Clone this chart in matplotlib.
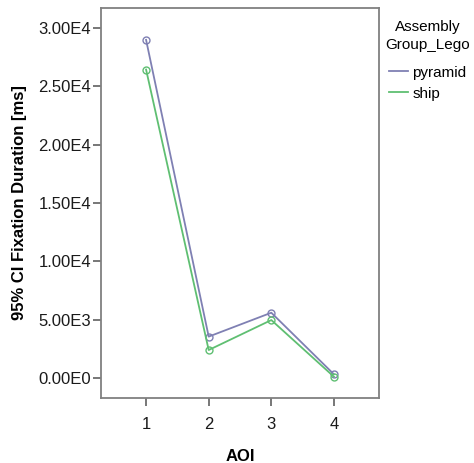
import matplotlib
matplotlib.use("Agg")
import matplotlib.pyplot as plt
from matplotlib.lines import Line2D

aoi = [1, 2, 3, 4]
pyramid = [29000, 3550, 5600, 320]
ship = [26450, 2400, 4970, 110]
yticks = [0, 5000, 10000, 15000, 20000, 25000, 30000]
ytick_labels = ["0.00E0", "5.00E3", "1.00E4", "1.50E4", "2.00E4", "2.50E4", "3.00E4"]

plt.rcParams['font.family'] = ['Liberation Sans', 'DejaVu Sans']

fig = plt.figure(figsize=(4.74, 4.63), dpi=100)
ax = fig.add_axes([101/474, 1 - 398/463, (379-101)/474, (398-8)/463])

c_pyr = '#7f80b3'
c_ship = '#5fbf72'
ax.plot(aoi, pyramid, color=c_pyr, lw=1.3, marker='o', ms=5, mfc='none', mec=c_pyr, mew=1.0)
ax.plot(aoi, ship, color=c_ship, lw=1.3, marker='o', ms=5, mfc='none', mec=c_ship, mew=1.0)

ax.set_xlim(0.28, 4.72)
ax.set_ylim(-1714, 31730)
ax.set_xticks(aoi)
ax.set_xticklabels([str(a) for a in aoi])
ax.set_yticks(yticks)
ax.set_yticklabels(ytick_labels)
for s in ax.spines.values():
    s.set_color('#808080')
    s.set_linewidth(1.3)
ax.tick_params(axis='both', direction='out', length=6, width=1.2, color='#606060', labelsize=12, labelcolor='#1a1a1a')
ax.tick_params(axis='x', pad=8)
ax.tick_params(axis='y', pad=1)

ax.set_ylabel('95% CI Fixation Duration [ms]', fontsize=12, fontweight='bold', labelpad=8)
ax.set_xlabel('AOI', fontsize=12, fontweight='bold', labelpad=12)

handles = [Line2D([], [], color=c_pyr, lw=1.3), Line2D([], [], color=c_ship, lw=1.3)]
leg = ax.legend(handles, ['pyramid', 'ship'], title='Assembly\nGroup_Lego', loc='upper left',
                bbox_to_anchor=(1.0, 0.985), frameon=False, fontsize=11, title_fontsize=11,
                handlelength=1.3, handletextpad=0.25, labelspacing=0.45, borderaxespad=0.2,
                borderpad=0.2)
leg._legend_box.align = 'center'
leg._legend_box.sep = 10
leg.get_title().set_multialignment('center')
leg.get_title().set_linespacing(1.35)

fig.savefig('out.png', dpi=100)
